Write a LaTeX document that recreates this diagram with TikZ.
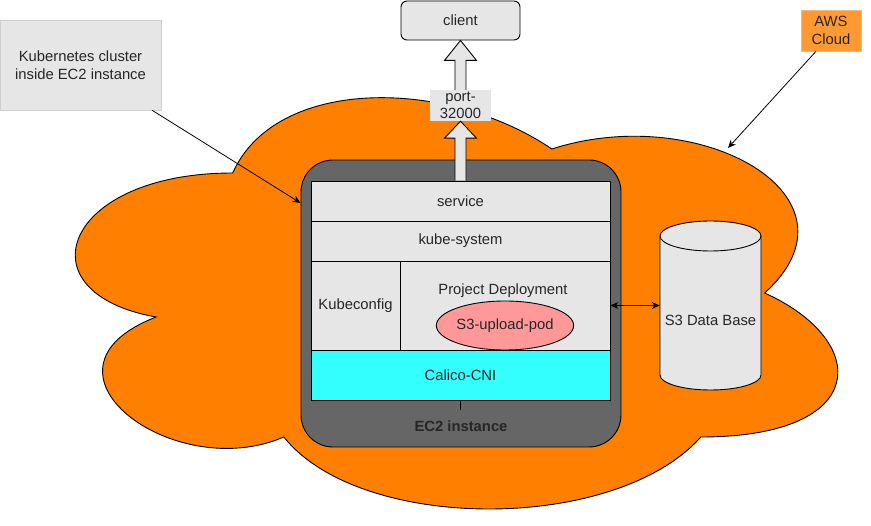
\documentclass[tikz,border=0pt]{standalone}
\usepackage{fontspec}
\setmainfont{Liberation Sans}
\usetikzlibrary{arrows.meta,calc,shapes.geometric}
\definecolor{cloudor}{HTML}{FF8000}
\definecolor{ecgray}{HTML}{666666}
\definecolor{lgray}{HTML}{E6E6E6}
\definecolor{cyanf}{HTML}{33FFFF}
\definecolor{podred}{HTML}{FF9999}
\definecolor{awsor}{HTML}{FF9933}
\definecolor{awsline}{HTML}{FFB570}
\definecolor{txt}{HTML}{262626}
\tikzset{
  every node/.style={font=\fontsize{14.8}{17.5}\selectfont, text=txt, inner sep=0pt},
  layer/.style={draw=black, line width=0.9pt, fill=lgray},
  note/.style={fill=lgray, draw=lgray!90!black, line width=0.4pt, align=center},
  flex/.style={draw=black, line width=0.9pt, fill=lgray, line join=miter},
  thin arrow/.style={draw=black, line width=0.8pt, -{Stealth[length=8pt,width=7pt]}},
}
\begin{document}
\begin{tikzpicture}[x=1pt,y=-1pt]
\useasboundingbox (0,0) rectangle (871,526);
% cloud
\draw[fill=cloudor, draw=black, line width=0.9pt]
  (232.75,173) .. controls (62.55,173) and (20,293) .. (156.16,317)
  .. controls (20,369.8) and (173.18,485) .. (283.81,437)
  .. controls (360.4,533) and (615.7,533) .. (700.8,437)
  .. controls (871,437) and (871,341) .. (764.625,293)
  .. controls (871,197) and (700.8,101) .. (551.875,149)
  .. controls (445.5,77) and (275.3,77) .. (232.75,173) -- cycle;
\coordinate (cloudpt) at (728,148);
% EC2 instance
\node[draw=black, line width=0.9pt, fill=ecgray, rounded corners=32pt, minimum width=320, minimum height=287] (ec2) at (461,303.5) {};
\node[font=\fontsize{14.8}{17.5}\selectfont\bfseries] (ec2lbl) at (461,426) {EC2 instance};
% layers
\node[layer, minimum width=299, minimum height=40] (svc) at (460.5,201) {service};
\node[layer, minimum width=299, minimum height=40] (kube) at (460.5,241) {kube-system};
\node[layer, minimum width=89, minimum height=89] (kcfg) at (355.5,305.5) {Kubeconfig};
\node[layer, minimum width=210, minimum height=89] (proj) at (505,305.5) {};
\node (projlbl) at (503,291) {Project Deployment};
\node[draw=black, line width=0.9pt, fill=podred, ellipse, minimum width=116, minimum height=49] (pod) at (505,325.5) {S3-upload-pod};
\node[layer, fill=cyanf, minimum width=299, minimum height=50] (calico) at (460.5,375) {Calico-CNI};
\draw[line width=1pt] (calico.south) -- ([yshift=-10pt]calico.south);
% S3 cylinder
\draw[fill=lgray, draw=black, line width=0.9pt]
  (660,236) -- (660,375)
  .. controls (660,383.28) and (682.6,390) .. (710.5,390)
  .. controls (738.4,390) and (761,383.28) .. (761,375)
  -- (761,236)
  .. controls (761,227.72) and (738.4,221) .. (710.5,221)
  .. controls (682.6,221) and (660,227.72) .. (660,236) -- cycle;
\draw[draw=black, line width=0.9pt]
  (660,236) .. controls (660,244.28) and (682.6,251) .. (710.5,251)
  .. controls (738.4,251) and (761,244.28) .. (761,236);
\node[minimum width=101, minimum height=169] (s3) at (710.5,305.5) {};
\node (s3lbl) at (710.5,320) {S3 Data Base};
\draw[draw=black, line width=0.8pt, {Stealth[length=8pt,width=7pt]}-{Stealth[length=8pt,width=7pt]}] (proj.east) -- (s3.west);
% client and port
\node[draw=black, line width=0.9pt, fill=lgray, rounded corners=6pt, minimum width=119, minimum height=39] (client) at (460.5,20.5) {client};
\node[fill=lgray, align=center, minimum width=61, minimum height=31] (port) at (460.5,105.5) {port-\\32000};
\draw[flex] ([xshift=-5.5pt]svc.north) -- ([xshift=-5.5pt,yshift=-17pt]port.south)
  -- ([xshift=-16pt,yshift=-17pt]port.south) -- (port.south)
  -- ([xshift=16pt,yshift=-17pt]port.south) -- ([xshift=5.5pt,yshift=-17pt]port.south)
  -- ([xshift=5.5pt]svc.north);
\draw[flex] ([xshift=-5.5pt]port.north) -- ([xshift=-5.5pt,yshift=-20pt]client.south)
  -- ([xshift=-16pt,yshift=-20pt]client.south) -- (client.south)
  -- ([xshift=16pt,yshift=-20pt]client.south) -- ([xshift=5.5pt,yshift=-20pt]client.south)
  -- ([xshift=5.5pt]port.north);
% notes
\node[note, minimum width=161, minimum height=90] (k8s) at (80.5,65) {Kubernetes cluster\\inside EC2 instance};
\draw[thin arrow] ([xshift=71.5pt]k8s.south) -- ([yshift=100.5pt]ec2.west);
\node[fill=awsor, draw=awsline, line width=0.6pt, align=center, minimum width=60, minimum height=41] (aws) at (831,30.5) {AWS\\Cloud};
\draw[thin arrow] ([xshift=-15pt]aws.south) -- (cloudpt);
\end{tikzpicture}
\end{document}
